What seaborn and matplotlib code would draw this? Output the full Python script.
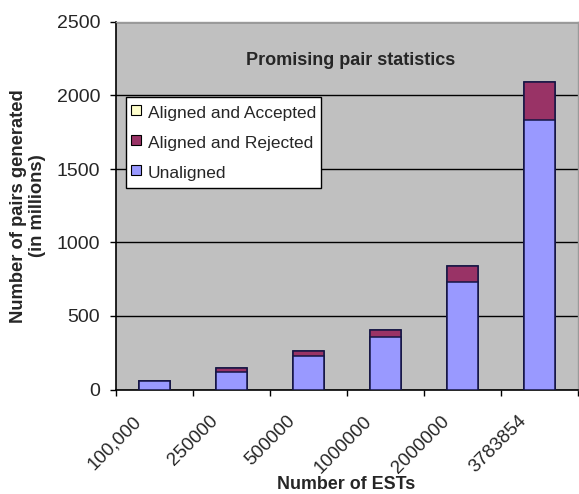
import matplotlib
matplotlib.use("Agg")
import matplotlib.pyplot as plt
from matplotlib.lines import Line2D
from matplotlib.transforms import ScaledTranslation
import numpy as np
import pandas as pd
import seaborn as sns

# Promising pair counts (millions) per EST set size
est_labels = ["100,000", "250000", "500000", "1000000", "2000000", "3783854"]
unaligned = [58, 117, 228, 355, 729, 1833]
aligned_rejected = [2, 27, 36, 50, 111, 261]
aligned_accepted = [0.2, 0.3, 0.4, 0.5, 0.7, 1.0]

series_names = ["Aligned and Accepted", "Aligned and Rejected", "Unaligned"]
colors = {
    "Aligned and Accepted": "#FFFFCC",
    "Aligned and Rejected": "#993366",
    "Unaligned": "#9999FF",
}

sns.set_theme(style="white")
plt.rcParams["font.family"] = ["Liberation Sans", "DejaVu Sans"]

fig = plt.figure(figsize=(5.79, 4.94), dpi=100)
W, H = 579, 494
left, right, top, bottom = 116, 578, 22, 389.5
ax = fig.add_axes([left / W, 1 - bottom / H, (right - left) / W, (bottom - top) / H])
ax.set_facecolor("#C0C0C0")

# stacked columns: draw cumulative totals from the top segment down
u = np.array(unaligned, dtype=float)
r = np.array(aligned_rejected, dtype=float)
a = np.array(aligned_accepted, dtype=float)
layers = [
    ("Aligned and Accepted", u + r + a),
    ("Aligned and Rejected", u + r),
    ("Unaligned", u),
]
for name, heights in layers:
    df = pd.DataFrame({"EST": est_labels, "pairs": heights})
    sns.barplot(data=df, x="EST", y="pairs", order=est_labels, color=colors[name],
                saturation=1, width=0.39, edgecolor="#151545", linewidth=1.1,
                ax=ax, zorder=3)

ax.set_ylim(0, 2500)
ax.set_xlim(-0.5, len(est_labels) - 0.5)
ax.set_yticks([0, 500, 1000, 1500, 2000, 2500])
ax.set_yticklabels(["0", "500", "1000", "1500", "2000", "2500"])
ax.yaxis.grid(True, color="black", linewidth=1.0)
ax.set_axisbelow(True)

for side in ["left", "bottom"]:
    ax.spines[side].set_color("black")
    ax.spines[side].set_linewidth(1.2)
for side in ["top", "right"]:
    ax.spines[side].set_color("#9A9A9A")
    ax.spines[side].set_linewidth(1.0)

ax.tick_params(axis="y", which="major", direction="out", length=4.5, width=1,
               color="black", pad=7, labelsize=14, left=True)
ax.set_xticks(np.arange(-0.5, len(est_labels)), minor=True)
ax.tick_params(axis="x", which="minor", direction="out", length=4.5, width=1,
               color="black", bottom=True)
ax.set_xticks(np.arange(len(est_labels)))
ax.set_xticklabels(est_labels, rotation=45, ha="right", va="center",
                   rotation_mode="anchor", fontsize=13.5)
ax.tick_params(axis="x", which="major", length=0, pad=0)
offset = ScaledTranslation(-16 / 100, -29 / 100, fig.dpi_scale_trans)
for lab in ax.get_xticklabels():
    lab.set_transform(lab.get_transform() + offset)

ax.set_xlabel("")
ax.set_ylabel("")

ax.text((351 - left) / (right - left), (bottom - 60) / (bottom - top),
        "Promising pair statistics", transform=ax.transAxes, ha="center",
        va="center", fontsize=13, fontweight="bold", zorder=5)

fig.text(346 / W, 1 - 484 / H, "Number of ESTs", ha="center", va="center",
         fontsize=12.9, fontweight="bold")
fig.text(28 / W, 1 - 206 / H, "Number of pairs generated\n(in millions)",
         rotation=90, ha="center", va="center", fontsize=13.2,
         fontweight="bold", multialignment="center", linespacing=1.1)

handles = [Line2D([], [], linestyle="none", marker="s", markersize=6.5,
                  markerfacecolor=colors[n], markeredgecolor="black",
                  markeredgewidth=0.8) for n in series_names]
leg = ax.legend(handles, series_names, loc="upper left",
                bbox_to_anchor=(126 / W, 1 - 97 / H), bbox_transform=fig.transFigure,
                borderaxespad=0, fontsize=12.5, frameon=True, fancybox=False,
                framealpha=1, facecolor="white", edgecolor="black",
                handlelength=0.55, handleheight=1.44, handletextpad=0.4,
                labelspacing=0.55, borderpad=0.3)
leg.get_frame().set_linewidth(1.0)
leg.set_zorder(6)

fig.savefig("out.png", dpi=100, facecolor="white")
